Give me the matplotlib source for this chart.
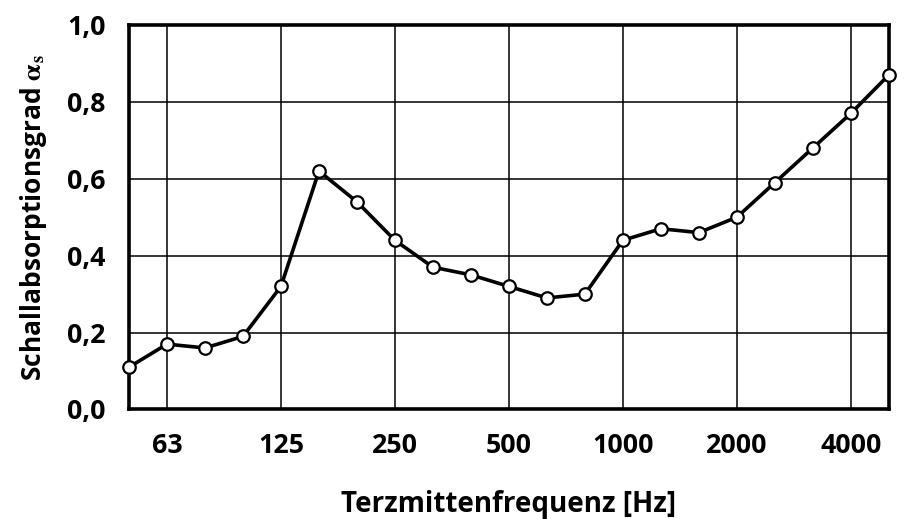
import numpy as np
import matplotlib
matplotlib.use('Agg')
import matplotlib.pyplot as plt

# Terzband-Mittenfrequenzen 50 Hz ... 5000 Hz
bands = [50, 63, 80, 100, 125, 160, 200, 250, 315, 400, 500,
         630, 800, 1000, 1250, 1600, 2000, 2500, 3150, 4000, 5000]
alpha_s = [0.11, 0.17, 0.16, 0.19, 0.32, 0.62, 0.54, 0.44, 0.37, 0.35, 0.32,
           0.29, 0.30, 0.44, 0.47, 0.46, 0.50, 0.59, 0.68, 0.77, 0.87]
tick_labels = ['63', '125', '250', '500', '1000', '2000', '4000']
y_ticks = [0.0, 0.2, 0.4, 0.6, 0.8, 1.0]

plt.rcParams['font.family'] = ['Open Sans', 'DejaVu Sans']
plt.rcParams['font.weight'] = 'bold'
plt.rcParams['mathtext.fontset'] = 'stix'

fig = plt.figure(figsize=(9.07, 5.19), dpi=100)
ax = fig.add_axes([0.1422, 0.211, 0.8378, 0.741])

x = np.arange(len(bands))
ax.plot(x, alpha_s, color='black', linewidth=2.6, marker='o',
        markersize=9, markerfacecolor='white', markeredgecolor='black',
        markeredgewidth=1.6, clip_on=False, zorder=5)

# Ticks an den Oktavbändern
tick_pos = [bands.index(int(t)) for t in tick_labels]
ax.set_xticks(tick_pos)
ax.set_xticklabels(tick_labels)
ax.set_yticks(y_ticks)
ax.set_yticklabels([f"{v:.1f}".replace('.', ',') for v in y_ticks])
ax.set_xlim(0, len(bands) - 1)
ax.set_ylim(0, 1.0)

ax.grid(True, color='black', linewidth=1.1)
ax.set_axisbelow(True)
ax.tick_params(length=0, labelsize=19.3, pad=17)
for lbl in ax.get_xticklabels() + ax.get_yticklabels():
    lbl.set_fontweight('bold')

for s in ax.spines.values():
    s.set_linewidth(2.6)

ax.set_xlabel('Terzmittenfrequenz [Hz]', fontsize=20, fontweight='bold', labelpad=22)
ax.set_ylabel(r'Schallabsorptionsgrad $\mathrm{\alpha}_{\mathsf{s}}$', fontsize=19,
              fontweight='bold', labelpad=13)

fig.savefig('out.png', dpi=100)
